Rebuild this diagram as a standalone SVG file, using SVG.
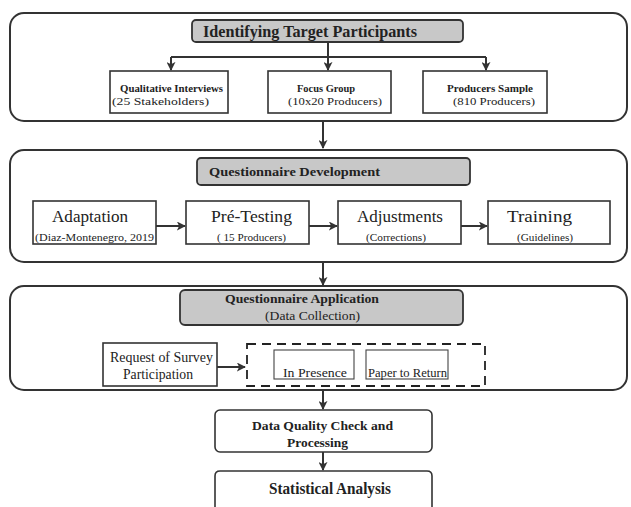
<svg xmlns="http://www.w3.org/2000/svg" width="631" height="507" viewBox="0 0 631 507">
<style>
.frame{fill:#fff;stroke:#333;stroke-width:2}
.title{fill:#c8c8c8;stroke:#333;stroke-width:1.8}
.box{fill:#fff;stroke:#333;stroke-width:1.6}
.thin{fill:#fff;stroke:#444;stroke-width:1.1}
.dash{fill:none;stroke:#222;stroke-width:1.8;stroke-dasharray:9 6}
.ln{fill:none;stroke:#333;stroke-width:2}
text{font-family:"Liberation Serif","Times New Roman",serif;fill:#222}
.b{font-weight:bold}
</style>
<defs>
<marker id="ah" viewBox="0 0 10 10" refX="9" refY="5" markerWidth="4.5" markerHeight="4.5" orient="auto" markerUnits="strokeWidth">
<path d="M0,0 L10,5 L0,10 L2.5,5 Z" fill="#333"/>
</marker>
</defs>
<rect width="631" height="507" fill="#fff"/>

<g id="section1">
<rect class="frame" x="10" y="13" width="617" height="108" rx="14"/>
<g id="title1">
<rect class="title" x="192" y="20" width="271" height="22" rx="4"/>
<text class="b" x="203" y="37" font-size="17" textLength="214" lengthAdjust="spacingAndGlyphs">Identifying Target Participants</text>
</g>
<g id="qi">
<rect class="box" x="110" y="71" width="118" height="42"/>
<text class="b" x="120" y="92" font-size="11" textLength="103" lengthAdjust="spacingAndGlyphs">Qualitative Interviews</text>
<text x="112" y="105" font-size="11" textLength="97" lengthAdjust="spacingAndGlyphs">(25 Stakeholders)</text>
</g>
<g id="fg">
<rect class="box" x="268" y="71" width="123" height="42"/>
<text class="b" x="297" y="92" font-size="11" textLength="58" lengthAdjust="spacingAndGlyphs">Focus Group</text>
<text x="288" y="105" font-size="11" textLength="94" lengthAdjust="spacingAndGlyphs">(10x20 Producers)</text>
</g>
<g id="ps">
<rect class="box" x="423" y="71" width="124" height="42"/>
<text class="b" x="447" y="92" font-size="11" textLength="86" lengthAdjust="spacingAndGlyphs">Producers Sample</text>
<text x="453" y="105" font-size="11" textLength="82" lengthAdjust="spacingAndGlyphs">(810 Producers)</text>
</g>
</g>

<g id="section2">
<rect class="frame" x="10" y="150" width="617" height="112" rx="14"/>
<g id="title2">
<rect class="title" x="197" y="158" width="273" height="27" rx="4"/>
<text class="b" x="209" y="176" font-size="13" textLength="171" lengthAdjust="spacingAndGlyphs">Questionnaire Development</text>
</g>
<g id="adaptation">
<rect class="box" x="33" y="201" width="123" height="43"/>
<text x="52" y="222" font-size="17" textLength="76" lengthAdjust="spacingAndGlyphs">Adaptation</text>
<text x="35" y="241" font-size="10" textLength="119" lengthAdjust="spacingAndGlyphs">(Diaz-Montenegro, 2019</text>
</g>
<g id="pretesting">
<rect class="box" x="186" y="201" width="123" height="43"/>
<text x="211" y="222" font-size="17" textLength="81" lengthAdjust="spacingAndGlyphs">Pré-Testing</text>
<text x="217" y="241" font-size="10" textLength="69" lengthAdjust="spacingAndGlyphs">( 15 Producers)</text>
</g>
<g id="adjustments">
<rect class="box" x="338" y="201" width="123" height="43"/>
<text x="357" y="222" font-size="17" textLength="86" lengthAdjust="spacingAndGlyphs">Adjustments</text>
<text x="366" y="241" font-size="10" textLength="60" lengthAdjust="spacingAndGlyphs">(Corrections)</text>
</g>
<g id="training">
<rect class="box" x="488" y="201" width="122" height="43"/>
<text x="507" y="222" font-size="17" textLength="65" lengthAdjust="spacingAndGlyphs">Training</text>
<text x="517" y="241" font-size="10" textLength="56" lengthAdjust="spacingAndGlyphs">(Guidelines)</text>
</g>
</g>

<g id="section3">
<rect class="frame" x="10" y="286" width="617" height="104" rx="14"/>
<g id="title3">
<rect class="title" x="180" y="290" width="283" height="35" rx="5"/>
<text class="b" x="225" y="303" font-size="13" textLength="154" lengthAdjust="spacingAndGlyphs">Questionnaire Application</text>
<text x="265" y="320" font-size="13" textLength="95" lengthAdjust="spacingAndGlyphs">(Data Collection)</text>
</g>
<g id="request">
<rect class="box" x="103" y="343" width="114" height="43"/>
<text x="110" y="362" font-size="14" textLength="103" lengthAdjust="spacingAndGlyphs">Request of Survey</text>
<text x="123" y="379" font-size="14" textLength="70" lengthAdjust="spacingAndGlyphs">Participation</text>
</g>
<g id="modes">
<rect class="dash" x="247" y="344" width="238" height="42"/>
<rect class="thin" x="274" y="350" width="80" height="29"/>
<text x="283" y="377" font-size="13" textLength="64" lengthAdjust="spacingAndGlyphs">In Presence</text>
<rect class="thin" x="366" y="350" width="82" height="29"/>
<text x="368" y="377" font-size="12" textLength="79" lengthAdjust="spacingAndGlyphs">Paper to Return</text>
</g>
</g>

<g id="dq">
<rect class="box" x="215" y="410" width="217" height="42" rx="5"/>
<text class="b" x="252" y="430" font-size="13" textLength="141" lengthAdjust="spacingAndGlyphs">Data Quality Check and</text>
<text class="b" x="287" y="447" font-size="13" textLength="61" lengthAdjust="spacingAndGlyphs">Processing</text>
</g>
<g id="stats">
<path class="box" d="M215,512 V476 Q215,471 220,471 H427 Q432,471 432,476 V512"/>
<text class="b" x="269" y="494" font-size="17" textLength="122" lengthAdjust="spacingAndGlyphs">Statistical Analysis</text>
</g>

<g id="connectors">
<path class="ln" d="M328,42 V70" marker-end="url(#ah)"/>
<path class="ln" d="M171,57 H486"/>
<path class="ln" d="M171,57 V70" marker-end="url(#ah)"/>
<path class="ln" d="M486,57 V70" marker-end="url(#ah)"/>
<path class="ln" d="M323,121 V148" marker-end="url(#ah)"/>
<path class="ln" d="M156,226 H185" marker-end="url(#ah)"/>
<path class="ln" d="M309,226 H337" marker-end="url(#ah)"/>
<path class="ln" d="M461,226 H487" marker-end="url(#ah)"/>
<path class="ln" d="M323,262 V285" marker-end="url(#ah)"/>
<path class="ln" d="M217,367 H245" marker-end="url(#ah)"/>
<path class="ln" d="M323,390 V409" marker-end="url(#ah)"/>
<path class="ln" d="M323,452 V470" marker-end="url(#ah)"/>
</g>
</svg>
